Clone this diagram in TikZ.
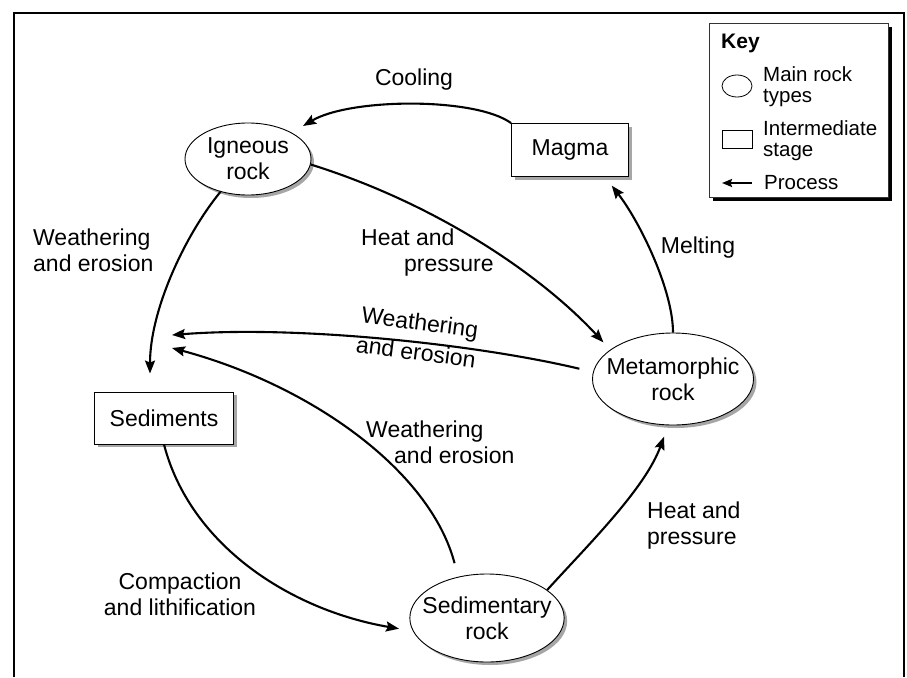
\documentclass[tikz,border=0pt]{standalone}
\usepackage{fontspec}
\setmainfont{Liberation Sans}
\usetikzlibrary{arrows.meta,shapes.geometric,shadows}

\begin{document}
\begin{tikzpicture}[x=1pt,y=-1pt,
  rockv/.style={ellipse, draw=black, line width=0.9pt, fill=white, inner xsep=-10pt, inner ysep=0pt, align=center, font={\fontsize{23}{26}\selectfont}, drop shadow={shadow xshift=3pt, shadow yshift=-3pt, fill=gray!70, opacity=1}},
  stagebox/.style={rectangle, draw=black, line width=0.9pt, fill=white, inner sep=0pt, font={\fontsize{23}{26}\selectfont}, drop shadow={shadow xshift=3pt, shadow yshift=-3pt, fill=gray!70, opacity=1}},
  proc/.style={line width=2.1pt, -{Stealth[length=13pt,width=10pt,inset=2pt]}},
  lbl/.style={font={\fontsize{23}{26}\selectfont}, inner sep=0pt, align=center},
  keybox/.style={rectangle, draw=black!80, line width=0.8pt, fill=white, minimum width=179pt, minimum height=174pt, drop shadow={shadow xshift=4pt, shadow yshift=-4pt, fill=black, opacity=1}},
  keytxt/.style={font={\fontsize{20.5}{21}\selectfont}, inner sep=0pt, align=left, anchor=west}
]
\useasboundingbox (0,0) rectangle (907,677);
\draw[line width=2.5pt] (14,677) |- (904,13) -- (904,677);

\node[rockv, minimum width=126pt, minimum height=72pt] (igneous) at (248,159) {Igneous\\rock};
\node[stagebox, minimum width=117pt, minimum height=53pt] (magma) at (570,150) {Magma};
\node[stagebox, minimum width=139pt, minimum height=52pt] (sediments) at (164,418) {Sediments};
\node[rockv, minimum width=161pt, minimum height=92pt] (metamorphic) at (673,379) {Metamorphic\\rock};
\node[rockv, minimum width=154pt, minimum height=88pt] (sedimentary) at (487,618) {Sedimentary\\rock};

\coordinate (wtipa) at (172,335);
\coordinate (wtipb) at (172,348);

\draw[proc, shorten >=13pt] (magma.north west) .. controls (475,97) and (350,98) .. (igneous.31);
\draw[proc, shorten >=10pt] (igneous.-5) .. controls (440,205) and (543,277) .. (metamorphic.155);
\draw[proc, shorten >=18pt] (igneous.-130) .. controls (185,235) and (150,310) .. ([xshift=-14pt]sediments.north);
\draw[proc, shorten >=11pt] (metamorphic.north) .. controls (673,290) and (640,222) .. ([xshift=35pt]magma.south);
\draw[proc, shorten <=14pt] (metamorphic.175) .. controls (480,345) and (300,325) .. (wtipa);
\draw[proc, shorten <=14pt] (sedimentary.125) .. controls (430,470) and (310,385) .. (wtipb);
\draw[proc, shorten >=14pt] (sediments.south) .. controls (190,545) and (290,610) .. (sedimentary.190);
\draw[proc, shorten >=12pt] (sedimentary.25) .. controls (587,546) and (645,489) .. (metamorphic.-96);

\node[lbl] (coollbl) at (414,80) {Cooling};
\node[lbl, align=left, anchor=west] (heatlbla) at (361,253) {Heat and\\\hspace*{43pt}pressure};
\node[lbl, align=left, anchor=west] (weathlbla) at (33,250) {Weathering\\and erosion};
\node[lbl] (meltlbl) at (698,248) {Melting};
\node[lbl, rotate=-7.5, font={\fontsize{23}{30}\selectfont}] (weathlblb) at (418,337) {Weathering\\and erosion};
\node[lbl, align=left, anchor=west] (weathlblc) at (366,442) {Weathering\\\hspace*{28pt}and erosion};
\node[lbl] (complbl) at (180,594) {Compaction\\and lithification};
\node[lbl, align=left, anchor=west] (heatlblb) at (647,526) {Heat and\\pressure};

\node[keybox] (key) at (798.5,110) {};
\node[font={\fontsize{21}{21}\selectfont\bfseries}, inner sep=0pt, anchor=west] (keyhead) at (721,43) {Key};
\node[ellipse, draw=black, line width=0.8pt, minimum width=30pt, minimum height=22pt, inner sep=0pt] (keyrock) at (737,86) {};
\node[keytxt] (keyrocktxt) at (763,87) {Main rock\\types};
\node[rectangle, draw=black, line width=0.8pt, minimum width=30pt, minimum height=18pt, inner sep=0pt] (keystage) at (737,139) {};
\node[keytxt] (keystagetxt) at (763,141) {Intermediate\\stage};
\node[keytxt] (keyproctxt) at (764,183) {Process};
\coordinate (keytip) at (722,183);
\draw[line width=2pt, -{Stealth[length=10pt,width=8pt,inset=1.5pt]}] ([xshift=-12pt]keyproctxt.west) -- (keytip);
\end{tikzpicture}
\end{document}
